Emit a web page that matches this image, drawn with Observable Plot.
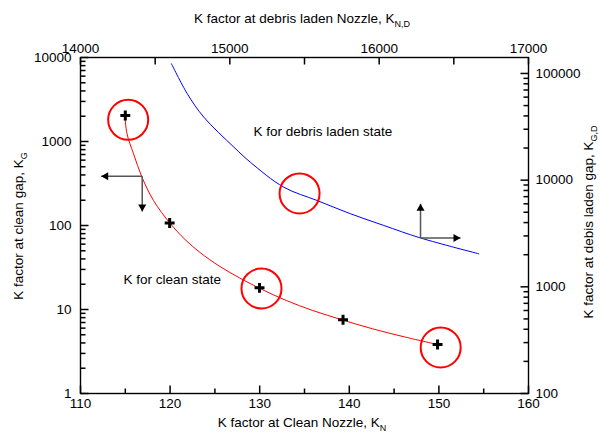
<!DOCTYPE html>
<html><head><meta charset="utf-8">
<script src="https://cdn.jsdelivr.net/npm/d3@7"></script>
<script src="https://cdn.jsdelivr.net/npm/@observablehq/plot@0.6"></script>
<style>
body{margin:0;background:#fff;}
svg{font-family:"Liberation Sans",Arial,sans-serif;}
</style>
</head><body><div id="chart"></div>
<script>
// ---- clean state (bottom / left axes) ----
const cleanKN = [115.0, 119.95, 129.98, 139.3, 149.85];
const cleanKG = [2040, 107, 18.1, 7.54, 3.83];
const cleanCurveKN = [114.95, 115.19, 115.92, 116.86, 118.14, 120.0, 121.67, 123.33, 125.56, 127.78, 129.89, 132.97, 135.92, 139.19, 142.59, 146.3, 149.85];
const cleanCurveKG = [2040, 1235, 714, 376, 199, 106, 68.1, 47.8, 32.5, 23.7, 18.1, 12.8, 9.73, 7.54, 5.89, 4.68, 3.83];

// ---- debris laden state (top / right axes) ----
const debrisKND = [14609, 14715, 14826, 15027, 15138, 15361, 15585, 15808, 16031, 16277, 16667];
const debrisKGD = [123300, 64600, 38900, 20400, 14700, 8590, 6440, 4840, 3760, 2870, 2040];

// ---- highlight circles ----
const circleKN = [115.32, 130.2, 150.2];
const circleKG = [1813, 17.8, 3.53];
const circleKND = [15467];
const circleKGD = [7500];

// ---- direction arrows (main axes) ----
const arrowX1 = [116.89, 116.89, 147.95, 147.95];
const arrowY1 = [386, 386, 71, 71];
const arrowX2 = [112.31, 116.89, 147.95, 152.41];
const arrowY2 = [386, 147, 181, 71];
const arrowDir = ["left", "down", "up", "right"];

// ---- text labels ----
const textLabels = ["K for debris laden state", "K for clean state"];
const textKN = [129.3, 114.8];
const textKG = [1315, 22.8];

// ---- tick values ----
const bottomTicks = [110, 120, 130, 140, 150, 160];
const bottomMinor = [115, 125, 135, 145, 155];
const leftTicks = [1, 10, 100, 1000, 10000];
const topTicks = [14000, 15000, 16000, 17000];
const topMinor = [14500, 15500, 16500];
const rightTicks = [100, 1000, 10000, 100000];

// secondary-axis mappings onto the primary scales
const K_RATIO = 1.27;
const topToX = k => 110 + (k - 14000) / 60;
const rightToY = r => Math.pow(10, (Math.log10(r) - 2) * K_RATIO);

const leftMinor = [];
for (const d of [1, 10, 100, 1000]) for (let m = 2; m <= 9; m++) leftMinor.push(d * m);
const rightMinor = [];
for (const d of [100, 1000, 10000]) for (let m = 2; m <= 9; m++) rightMinor.push(d * m);

const cleanPts = cleanKN.map((x, i) => ({x, y: cleanKG[i]}));
const cleanCurve = cleanCurveKN.map((x, i) => ({x, y: cleanCurveKG[i]}));
const debrisCurve = debrisKND.map((k, i) => ({x: topToX(k), y: rightToY(debrisKGD[i])}));
const circles = circleKN.map((x, i) => ({x, y: circleKG[i]}))
  .concat(circleKND.map((k, i) => ({x: topToX(k), y: rightToY(circleKGD[i])})));
const arrows = arrowX1.map((x1, i) => ({x1, y1: arrowY1[i], x2: arrowX2[i], y2: arrowY2[i], dir: arrowDir[i]}));
const texts = textLabels.map((t, i) => ({t, x: textKN[i], y: textKG[i]}));

const W = 600, Hh = 433, ML = 80, MR = 72, MT = 57, MB = 40;
const PW = W - ML - MR, PH = Hh - MT - MB;
const PX_X = PW / 50;        // pixels per x unit
const PX_DEC = PH / 4;       // pixels per y decade
const H = 4.67; // triangle tip offset
const FS = 13.5;

// inward tick helpers (length in px converted to data units)
const xIn = (x0, len) => x0 + len / PX_X;
const xInR = (x0, len) => x0 - len / PX_X;
const yUp = len => Math.pow(10, len / PX_DEC);
const yDown = len => Math.pow(10, 4 - len / PX_DEC);
const tk = {stroke: "black", strokeWidth: 1.5};

const plot = Plot.plot({
  width: W, height: Hh,
  marginLeft: ML, marginRight: MR, marginTop: MT, marginBottom: MB,
  style: {fontFamily: '"Liberation Sans", Arial, sans-serif', fontSize: FS + "px", color: "black", background: "white", overflow: "visible"},
  x: {domain: [110, 160], axis: null},
  y: {type: "log", domain: [1, 10000], axis: null},
  marks: [
    Plot.frame({stroke: "black", strokeWidth: 1.4, fill: "none"}),
    // inward tick marks
    Plot.link(bottomTicks, {x1: d => d, x2: d => d, y1: 1, y2: yUp(8), ...tk}),
    Plot.link(bottomMinor, {x1: d => d, x2: d => d, y1: 1, y2: yUp(5), ...tk}),
    Plot.link(topTicks.concat(topMinor), {x1: d => topToX(d), x2: d => topToX(d), y1: 10000, y2: yDown(7), ...tk}),
    Plot.link(leftTicks, {y1: d => d, y2: d => d, x1: 110, x2: xIn(110, 8), ...tk}),
    Plot.link(leftMinor, {y1: d => d, y2: d => d, x1: 110, x2: xIn(110, 5), ...tk}),
    Plot.link(rightTicks, {y1: d => rightToY(d), y2: d => rightToY(d), x1: 160, x2: xInR(160, 8), ...tk}),
    Plot.link(rightMinor, {y1: d => rightToY(d), y2: d => rightToY(d), x1: 160, x2: xInR(160, 5), ...tk}),
    // tick labels
    Plot.text(bottomTicks, {x: d => d, frameAnchor: "bottom", dy: 14, text: d => String(d), fill: "black"}),
    Plot.text(topTicks, {x: d => topToX(d), frameAnchor: "top", dy: -14, text: d => String(d), fill: "black"}),
    Plot.text(leftTicks, {y: d => d, frameAnchor: "left", dx: -9, textAnchor: "end", text: d => String(d), fill: "black"}),
    Plot.text(rightTicks, {y: d => rightToY(d), frameAnchor: "right", dx: 7, textAnchor: "start", text: d => String(d), fill: "black"}),
    // curves
    Plot.line(cleanCurve, {x: "x", y: "y", stroke: "#ff0000", strokeWidth: 1, curve: "catmull-rom"}),
    Plot.line(debrisCurve, {x: "x", y: "y", stroke: "#0000ff", strokeWidth: 1, curve: "catmull-rom"}),
    // arrows
    Plot.link(arrows, {x1: "x1", y1: "y1", x2: "x2", y2: "y2", stroke: "#555", strokeWidth: 1.5}),
    Plot.dot(arrows.filter(d => d.dir === "left"), {x: "x2", y: "y2", symbol: "triangle", r: 3, fill: "black", rotate: -90, dx: H}),
    Plot.dot(arrows.filter(d => d.dir === "right"), {x: "x2", y: "y2", symbol: "triangle", r: 3, fill: "black", rotate: 90, dx: -H}),
    Plot.dot(arrows.filter(d => d.dir === "up"), {x: "x2", y: "y2", symbol: "triangle", r: 3, fill: "black", rotate: 0, dy: H}),
    Plot.dot(arrows.filter(d => d.dir === "down"), {x: "x2", y: "y2", symbol: "triangle", r: 3, fill: "black", rotate: 180, dy: -H}),
    // points
    Plot.dot(cleanPts, {x: "x", y: "y", symbol: "plus", r: 3.3, stroke: "black", strokeWidth: 3, fill: "none"}),
    Plot.dot(circles, {x: "x", y: "y", r: 20, stroke: "#ff0000", strokeWidth: 2, fill: "none"}),
    // labels
    Plot.text(texts, {x: "x", y: "y", text: "t", textAnchor: "start", fontSize: FS, fill: "black"})
  ]
});

document.getElementById("chart").appendChild(plot);

// axis titles with subscripts
const svg = d3.select(plot);
function title(x, y, rot, main, sub) {
  const t = svg.append("text")
    .attr("transform", `translate(${x},${y}) rotate(${rot})`)
    .attr("text-anchor", "middle")
    .attr("font-size", FS + "px")
    .attr("fill", "black");
  t.append("tspan").text(main);
  t.append("tspan").attr("font-size", "9px").attr("dy", "3.5").text(sub);
}
title(302, 427, 0, "K factor at Clean Nozzle, K", "N");
title(302, 23, 0, "K factor at debris laden Nozzle, K", "N,D");
title(23, 226, -90, "K factor at clean gap, K", "G");
title(593, 222, -90, "K factor at debis laden gap, K", "G,D");
</script>
</body></html>
